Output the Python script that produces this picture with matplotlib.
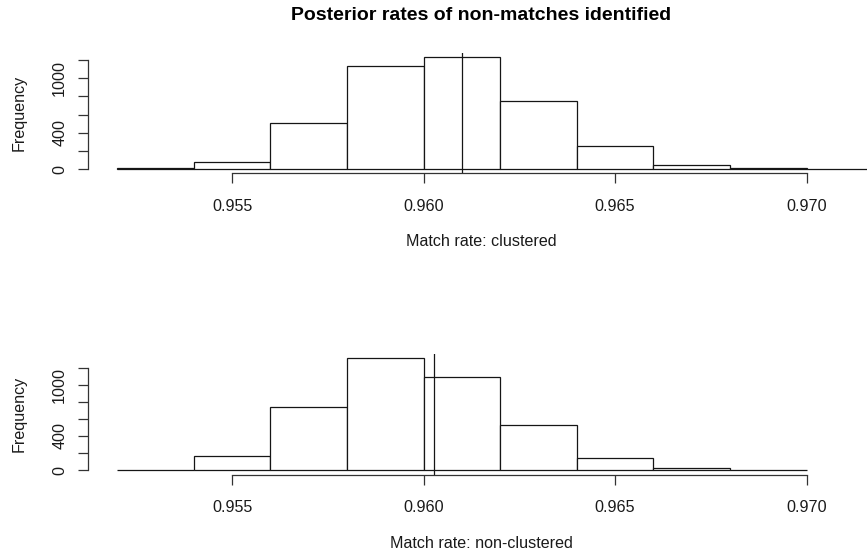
import numpy as np
import matplotlib.pyplot as plt

plt.rcParams['font.family'] = ['Liberation Sans', 'DejaVu Sans']

# posterior draws binned at width 0.002
bin_width = 0.002
clustered_edges = [0.952, 0.954, 0.956, 0.958, 0.960, 0.962, 0.964, 0.966, 0.968, 0.970]
clustered_counts = [8, 80, 510, 1131, 1230, 745, 250, 44, 14, 1]
nonclustered_edges = [0.952, 0.954, 0.956, 0.958, 0.960, 0.962, 0.964, 0.966, 0.968]
nonclustered_counts = [3, 170, 737, 1307, 1093, 527, 139, 28, 5]

# observed rates marked with a vertical line
clustered_obs = 0.9610
nonclustered_obs = 0.96026

xticks = [0.955, 0.960, 0.965, 0.970]
xticklabels = ['0.955', '0.960', '0.965', '0.970']
yticks = [0, 200, 400, 600, 800, 1000, 1200]
yticklabels = ['0', '', '400', '', '', '1000', '']

W, H = 867, 556
fig = plt.figure(figsize=(W / 100, H / 100), dpi=100)

xlim = (0.952 - 0.04 * 0.019, 0.971 + 0.04 * 0.019)
left_px, right_px = 88, 874
panels = [
    (clustered_edges, clustered_counts, clustered_obs, 53.0, 'Match rate: clustered', 242),
    (nonclustered_edges, nonclustered_counts, nonclustered_obs, 354.0, 'Match rate: non-clustered', 544),
]
plot_h = 120.5
fs = 11.6

for edges, counts, obs, top_px, xlab, xlab_y in panels:
    ax = fig.add_axes([left_px / W, 1 - (top_px + plot_h) / H,
                       (right_px - left_px) / W, plot_h / H])
    ax.bar(edges, counts, width=bin_width, align='edge', color='white',
           edgecolor='#151515', linewidth=0.9)
    ax.axvline(obs, color='#151515', linewidth=0.9)
    top = max(counts)
    ax.set_xlim(*xlim)
    ax.set_ylim(-0.04 * top, 1.04 * top)

    for side in ['top', 'right']:
        ax.spines[side].set_visible(False)
    ax.spines['bottom'].set_bounds(xticks[0], xticks[-1])
    ax.spines['left'].set_bounds(yticks[0], yticks[-1])
    for side in ['bottom', 'left']:
        ax.spines[side].set_color('#333333')
        ax.spines[side].set_linewidth(0.9)

    ax.set_xticks(xticks)
    ax.set_xticklabels(xticklabels)
    ax.set_yticks(yticks)
    ax.set_yticklabels(yticklabels, rotation=90, va='center')
    ax.tick_params(direction='out', length=7, width=0.9, color='#333333',
                   labelsize=fs, labelcolor='#1a1a1a')
    ax.tick_params(axis='x', pad=11.5)
    ax.tick_params(axis='y', pad=8)

    fig.text(481 / W, 1 - xlab_y / H, xlab, ha='center', va='center',
             fontsize=fs, color='#1a1a1a')
    fig.text(19 / W, 1 - (top_px + 60) / H, 'Frequency', rotation=90,
             ha='center', va='center', fontsize=fs, color='#1a1a1a')

fig.text(481 / W, 1 - 16 / H, 'Posterior rates of non-matches identified',
         ha='center', va='center', fontsize=14, fontweight='bold')

fig.savefig('out.png', dpi=100)
